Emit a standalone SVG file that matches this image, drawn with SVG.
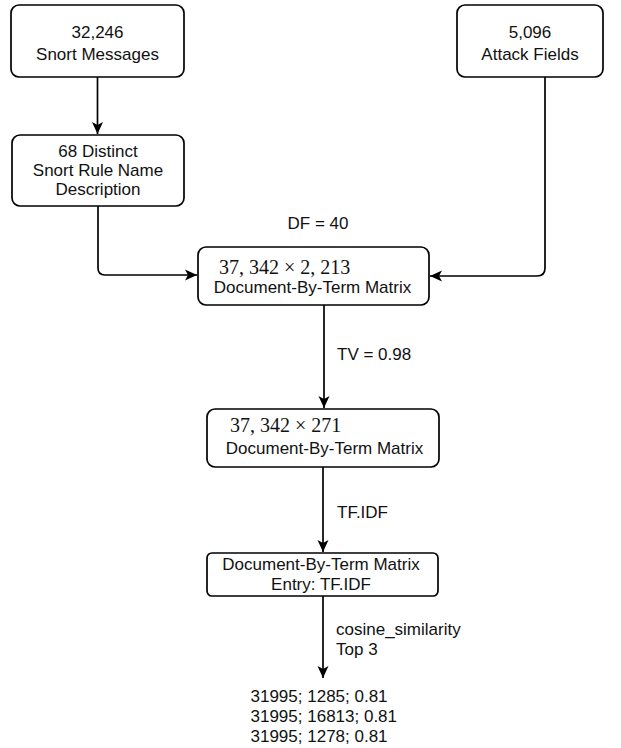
<svg xmlns="http://www.w3.org/2000/svg" width="621" height="748" viewBox="0 0 621 748">
<style>
.box{fill:#fff;stroke:#000;stroke-width:1.7}
.t{font-family:"Liberation Sans",Arial,sans-serif;font-size:17px;fill:#111}
.m{font-family:"Liberation Serif","Times New Roman",serif;font-size:20px;fill:#111}
.c{text-anchor:middle}
.edge{fill:none;stroke:#000;stroke-width:1.7}
</style>
<defs>
<marker id="arr" markerUnits="userSpaceOnUse" markerWidth="13" markerHeight="13" viewBox="0 0 13 13" refX="12" refY="6.5" orient="auto">
<path d="M0,1 L12,6.5 L0,12 L3,6.5 Z" fill="#000"/>
</marker>
</defs>
<rect width="621" height="748" fill="#fff"/>
<g id="connectors">
<path class="edge" d="M97.5,77 V134" marker-end="url(#arr)"/>
<path class="edge" d="M98,206 V268 Q98,275 105,275 H197" marker-end="url(#arr)"/>
<path class="edge" d="M545,77 V268 Q545,276 537,276 H430" marker-end="url(#arr)"/>
<path class="edge" d="M324,305 V408" marker-end="url(#arr)"/>
<path class="edge" d="M323,467 V552" marker-end="url(#arr)"/>
<path class="edge" d="M323,596 V678" marker-end="url(#arr)"/>
<text class="t" x="318" y="229" text-anchor="middle">DF = 40</text>
<text class="t" x="337" y="360">TV = 0.98</text>
<text class="t" x="337" y="518">TF.IDF</text>
<text class="t" x="336" y="635">cosine_similarity</text>
<text class="t" x="336" y="655">Top 3</text>
</g>
<g id="snort-messages">
<rect class="box" x="11" y="5" width="173" height="72" rx="8"/>
<text class="t c" x="97.5" y="37.5">32,246</text>
<text class="t c" x="97.5" y="59.5">Snort Messages</text>
</g>
<g id="attack-fields">
<rect class="box" x="457" y="5" width="146" height="72" rx="8"/>
<text class="t c" x="530" y="37.5">5,096</text>
<text class="t c" x="530" y="59.5">Attack Fields</text>
</g>
<g id="distinct-rules">
<rect class="box" x="12" y="135" width="172" height="71" rx="8"/>
<text class="t c" x="98" y="157">68 Distinct</text>
<text class="t c" x="98" y="176">Snort Rule Name</text>
<text class="t c" x="98" y="195">Description</text>
</g>
<g id="matrix-full">
<rect class="box" x="198" y="247" width="231" height="58" rx="8"/>
<text class="m" x="219" y="274">37, 342 × 2, 213</text>
<text class="t c" x="312.5" y="293">Document-By-Term Matrix</text>
</g>
<g id="matrix-reduced">
<rect class="box" x="207" y="409" width="232" height="58" rx="8"/>
<text class="m" x="230" y="431.5">37, 342 × 271</text>
<text class="t c" x="324.5" y="453.5">Document-By-Term Matrix</text>
</g>
<g id="matrix-tfidf">
<rect class="box" x="207" y="553" width="231" height="43" rx="5"/>
<text class="t c" x="321" y="570">Document-By-Term Matrix</text>
<text class="t c" x="321" y="590">Entry: TF.IDF</text>
</g>
<g id="results">
<text class="t" x="250.5" y="701.5">31995; 1285; 0.81</text>
<text class="t" x="250.5" y="721.5">31995; 16813; 0.81</text>
<text class="t" x="250.5" y="741.5">31995; 1278; 0.81</text>
</g>
</svg>
